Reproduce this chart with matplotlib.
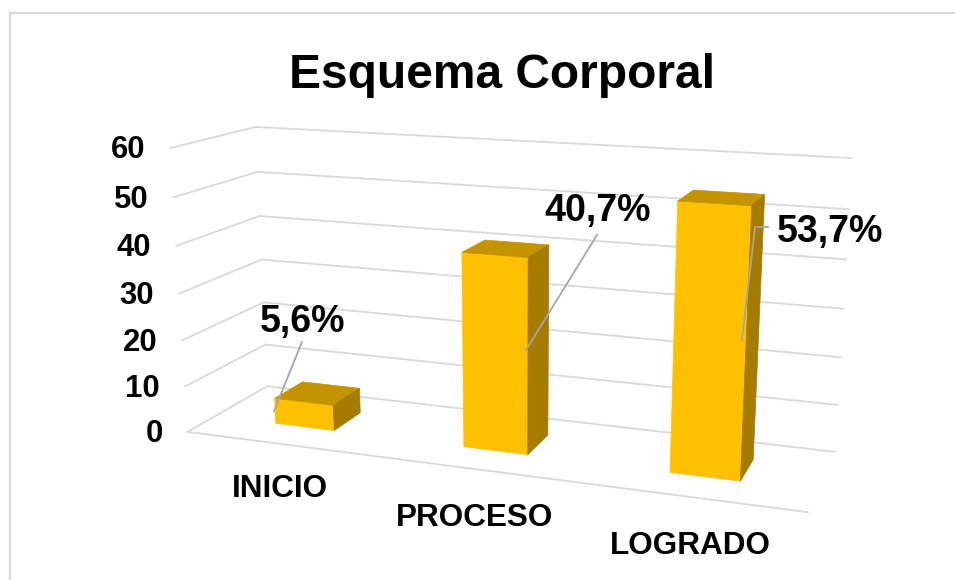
#!/usr/bin/python3
# coding=utf-8
import numpy as np
import matplotlib
matplotlib.use("Agg")
import matplotlib.pyplot as plt
from matplotlib.patches import Polygon

plt.rcParams['font.family'] = ['Liberation Sans', 'DejaVu Sans']

categories = ['INICIO', 'PROCESO', 'LOGRADO']
values = [5.6, 40.7, 53.7]
value_labels = ['5,6%', '40,7%', '53,7%']
y_ticks = [0, 10, 20, 30, 40, 50, 60]
y_max = 60

# width of bar inside its category slot and depth range on the floor
BAR_W = 0.32
BAR_V = (0.33, 0.70)

# screen position of the corners of the 3d box (u, v, h) -> (px, py)
box_world = [(0, 0, 0), (1, 0, 0), (0, 1, 0), (1, 1, 0), (0, 0, 1), (0, 1, 1), (1, 1, 1)]
box_screen = [(188, 432), (808, 512), (267, 386), (835, 452), (170, 148), (256, 127), (852, 158)]


def fit_camera(world, screen):
    """ Pinhole camera from point pairs, excel draws its 3d charts with perspective """
    A, b = [], []
    for (u, v, h), (x, y) in zip(world, screen):
        A.append([u, v, h, 1, 0, 0, 0, 0, -x * u, -x * v, -x * h])
        A.append([0, 0, 0, 0, u, v, h, 1, -y * u, -y * v, -y * h])
        b += [x, y]
    p = np.linalg.lstsq(np.array(A, float), np.array(b, float), rcond=None)[0]
    return np.append(p, 1).reshape(3, 4)


CAM = fit_camera(box_world, box_screen)


def project(u, v, h):
    x, y, w = CAM @ np.array([u, v, h, 1.0])
    return x / w, y / w


def line3d(ax, a, b, **kw):
    p, q = project(*a), project(*b)
    ax.plot([p[0], q[0]], [p[1], q[1]], **kw)


fig = plt.figure(figsize=(9.55, 5.8), dpi=100)
ax = fig.add_axes([0, 0, 1, 1])
ax.set_xlim(0, 955)
ax.set_ylim(580, 0)
ax.axis('off')

# chart frame, only top and left are visible in the crop
ax.plot([10, 10, 955], [580, 13, 13], color='#D9D9D9', lw=1.6, solid_joinstyle='miter')

grid = dict(color='#D9D9D9', lw=1.3, solid_capstyle='round')
for t in y_ticks:
    h = t / y_max
    line3d(ax, (0, 0, h), (0, 1, h), **grid)
    line3d(ax, (0, 1, h), (1, 1, h), **grid)
    x, y = project(0, 0, h)
    ax.text(x - 25, y + 2.5, str(t), ha='right', va='center', fontsize=22.4, fontweight='bold')
line3d(ax, (0, 0, 0), (1, 0, 0), **grid)

n = len(categories)
for i, val in enumerate(values):
    u0 = (i + 0.5 - BAR_W / 2) / n
    u1 = (i + 0.5 + BAR_W / 2) / n
    v0, v1 = BAR_V
    h = val / y_max
    faces = [
        ([(u0, v0, 0), (u1, v0, 0), (u1, v0, h), (u0, v0, h)], '#FFC000'),
        ([(u0, v0, h), (u1, v0, h), (u1, v1, h), (u0, v1, h)], '#C49300'),
        ([(u1, v0, 0), (u1, v1, 0), (u1, v1, h), (u1, v0, h)], '#A67C00'),
    ]
    for pts, col in faces:
        ax.add_patch(Polygon([project(*p) for p in pts], closed=True, fc=col, ec=col, lw=0.5, zorder=3))

# category labels
cat_pos = [(280, 489), (475, 518), (690, 546)]
for name, (x, y) in zip(categories, cat_pos):
    ax.text(x, y, name, ha='center', va='center', fontsize=22.7, fontweight='bold', zorder=5)

# data labels and leader lines
label_pos = [(303, 322), (598, 211), (830, 232)]
leaders = [[(274, 411), (302, 342)], [(526, 350), (597, 235)], [(742, 340), (755, 227), (768, 227)]]
for txt, (x, y), lead in zip(value_labels, label_pos, leaders):
    ax.text(x, y, txt, ha='center', va='center', fontsize=27, fontweight='bold', zorder=5)
    ax.plot(*zip(*lead), color='#A6A6A6', lw=1.3, zorder=4)

ax.text(502, 76, 'Esquema Corporal', ha='center', va='center', fontsize=34.5, fontweight='bold')

fig.savefig('out.png', dpi=100)
